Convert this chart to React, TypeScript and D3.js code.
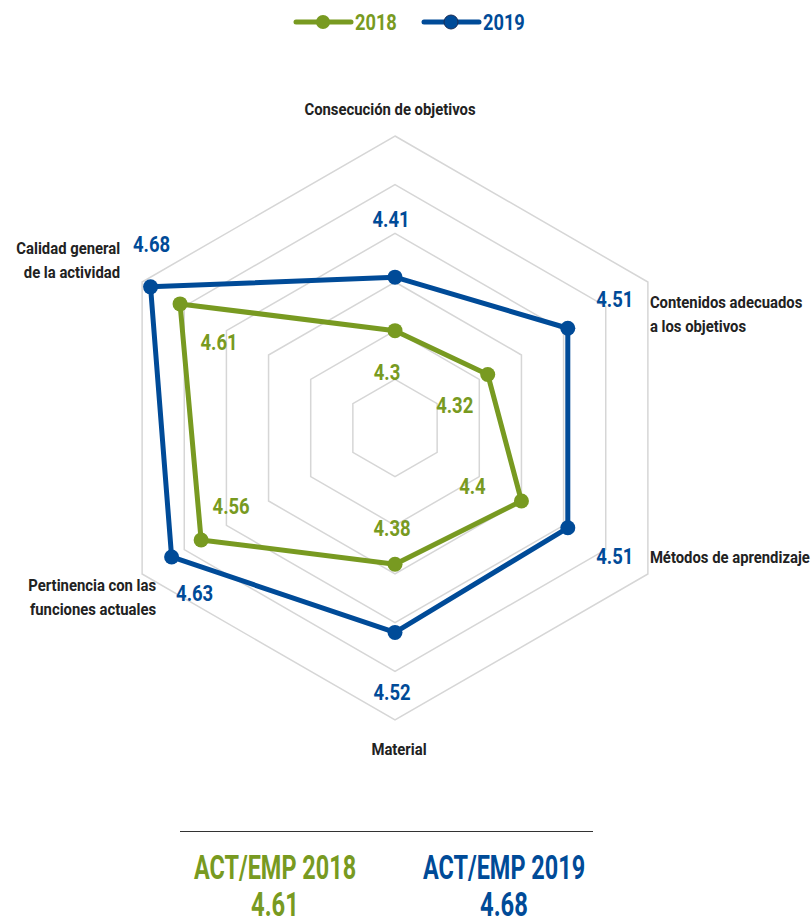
import React from 'react'
import * as d3 from 'd3'

// chart data
const axes = [
  ['Consecución de objetivos'],
  ['Contenidos adecuados', 'a los objetivos'],
  ['Métodos de aprendizaje'],
  ['Material'],
  ['Pertinencia con las', 'funciones actuales'],
  ['Calidad general', 'de la actividad'],
]
const values2018 = [4.3, 4.32, 4.4, 4.38, 4.56, 4.61]
const values2019 = [4.41, 4.51, 4.51, 4.52, 4.63, 4.68]
const summaryLabels = ['ACT/EMP 2018', 'ACT/EMP 2019']
const summaryValues = [4.61, 4.68]
const legendYears = ['2018', '2019']
const ringLevels = [4.2, 4.3, 4.4, 4.5, 4.6, 4.7]

const GREEN = '#789a21'
const BLUE = '#004b98'
const FONT = "Roboto, 'Noto Sans', sans-serif"

const width = 811
const height = 916
const cx = 395
const cy = 428
const R = 292

// where value labels sit, relative to their point
const off2018 = [[-8, 42], [-33, 31], [-49, -15], [-3, -36], [30, -34], [39, 38]]
const off2019 = [[-4, -58], [47, -29], [47, 28], [-3, 60], [23, 36], [1, -43]]

// axis label anchors (first baseline), relative to the outer vertex
const axisLabel = [
  { dx: -5, dy: -21, anchor: 'middle' },
  { dx: 2, dy: 26, anchor: 'start' },
  { dx: 2, dy: -11, anchor: 'start' },
  { dx: 4, dy: 35, anchor: 'middle' },
  { dx: 14, dy: 17, anchor: 'end' },
  { dx: -22, dy: -28, anchor: 'end' },
]

const r = d3.scaleLinear().domain([4.1, 4.7]).range([0, R])
const angle = (i: number) => (i * Math.PI * 2) / axes.length

const pt = (i: number, radius: number): [number, number] => [
  cx + radius * Math.sin(angle(i)),
  cy - radius * Math.cos(angle(i)),
]

const line = d3.line<[number, number]>().curve(d3.curveLinearClosed)

// condensed bold text: no narrow face is installed, so squeeze it horizontally
const CText: React.FC<{
  x: number
  y: number
  size: number
  sx: number
  fill: string
  anchor?: string
  dy?: string
  children: React.ReactNode
}> = ({ x, y, size, sx, fill, anchor = 'middle', dy, children }) => (
  <g transform={`translate(${x},${y}) scale(${sx},1)`}>
    <text x={0} y={0} dy={dy} textAnchor={anchor} fill={fill} fontSize={size} fontWeight="bold">
      {children}
    </text>
  </g>
)

const Series: React.FC<{ values: number[]; color: string; offs: number[][] }> = ({ values, color, offs }) => {
  const pts = values.map((v, i) => pt(i, r(v)))
  return (
    <g>
      <path d={line(pts) || ''} fill="none" stroke={color} strokeWidth={5} strokeLinejoin="round" />
      {pts.map((p, i) => (
        <circle key={i} cx={p[0]} cy={p[1]} r={7.5} fill={color} />
      ))}
      {pts.map((p, i) => (
        <CText key={'t' + i} x={p[0] + offs[i][0]} y={p[1] + offs[i][1]} dy="0.36em" size={21.5} sx={0.86} fill={color}>
          {values[i]}
        </CText>
      ))}
    </g>
  )
}

const RadarChart: React.FC = () => {
  return (
    <svg width={width} height={height} style={{ position: 'absolute', left: 0, top: 0 }} fontFamily={FONT}>
      <rect width={width} height={height} fill="#fff" />

      {/* legend */}
      {legendYears.map((y, i) => {
        const x0 = i === 0 ? 296 : 424
        const color = i === 0 ? GREEN : BLUE
        return (
          <g key={y}>
            <line x1={x0} x2={x0 + 55} y1={22} y2={22} stroke={color} strokeWidth={5} strokeLinecap="round" />
            <circle cx={x0 + 27} cy={22} r={7} fill={color} stroke={i === 0 ? 'none' : '#1b2d55'} strokeWidth={1} />
            <CText x={x0 + 59} y={29.5} size={22.5} sx={0.81} fill={color} anchor="start">
              {y}
            </CText>
          </g>
        )
      })}

      {/* grid */}
      {ringLevels.map(lv => (
        <path
          key={lv}
          d={line(axes.map((_, i) => pt(i, r(lv)))) || ''}
          fill="none"
          stroke="#d6d6d6"
          strokeWidth={1.5}
        />
      ))}

      {/* axis labels */}
      {axes.map((lines, i) => {
        const [x, y] = pt(i, R)
        const a = axisLabel[i]
        return (
          <g key={i}>
            {lines.map((l, j) => (
              <CText key={j} x={x + a.dx} y={y + a.dy + j * 24} size={16.5} sx={0.9} fill="#222" anchor={a.anchor}>
                {l}
              </CText>
            ))}
          </g>
        )
      })}

      <Series values={values2018} color={GREEN} offs={off2018} />
      <Series values={values2019} color={BLUE} offs={off2019} />

      {/* summary */}
      <line x1={180} x2={593} y1={831.5} y2={831.5} stroke="#333" strokeWidth={1} />
      {summaryLabels.map((s, i) => {
        const x = i === 0 ? 275 : 504
        const color = i === 0 ? GREEN : BLUE
        return (
          <g key={s}>
            <CText x={x} y={879} size={34} sx={0.69} fill={color}>
              {s}
            </CText>
            <CText x={x} y={915.5} size={34} sx={0.7} fill={color}>
              {summaryValues[i].toFixed(2)}
            </CText>
          </g>
        )
      })}
    </svg>
  )
}

const App: React.FC = () => (
  <div id="container">
    <RadarChart />
  </div>
)

export default App
